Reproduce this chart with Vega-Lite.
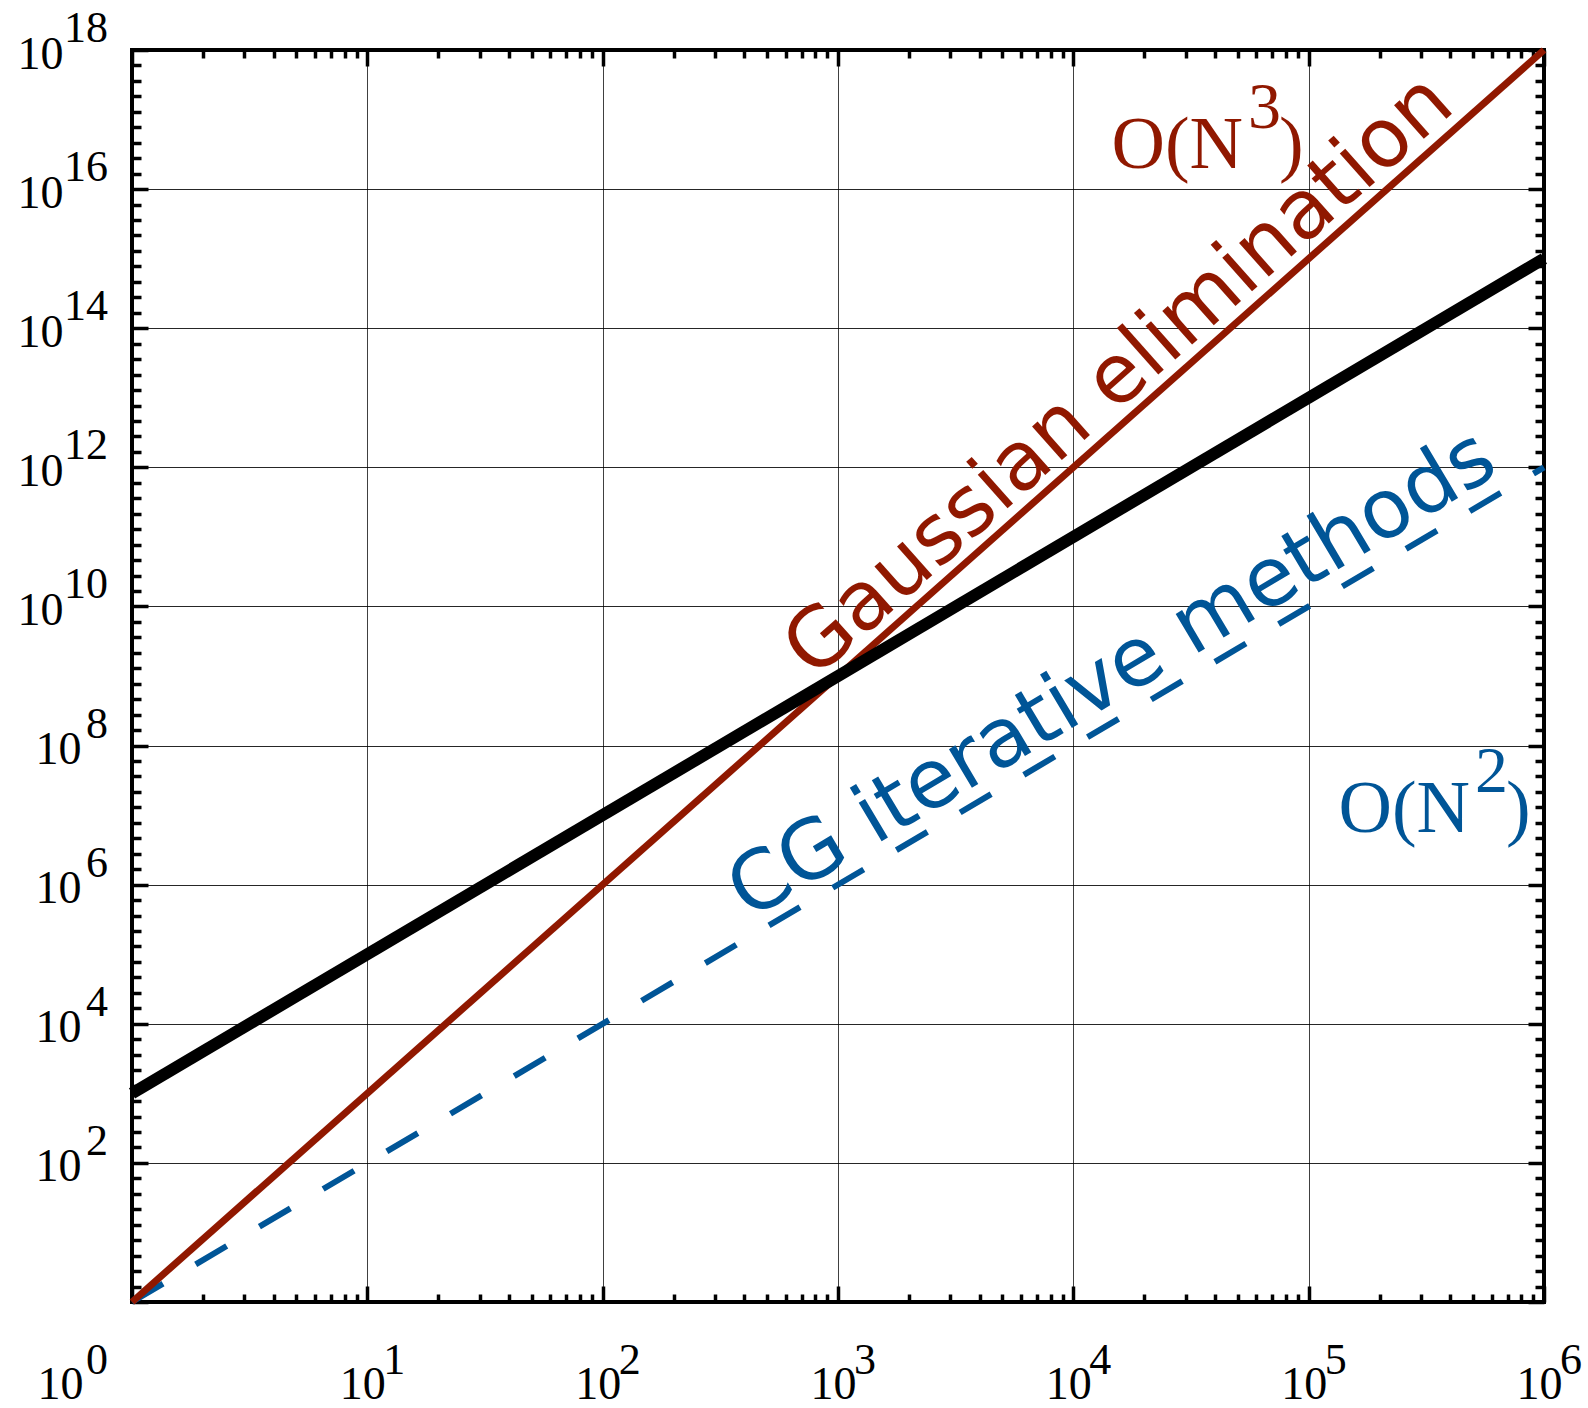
{
  "$schema": "https://vega.github.io/schema/vega-lite/v6.json",
  "width": 1412,
  "height": 1252,
  "autosize": {"type": "none"},
  "padding": {"left": 132, "top": 50, "right": 44, "bottom": 106},
  "background": "white",
  "config": {
    "view": {"stroke": "black", "strokeWidth": 4},
    "axis": {
      "domain": false,
      "tickColor": "black",
      "tickWidth": 3.5,
      "gridColor": "black",
      "gridWidth": 1,
      "labelFont": "Liberation Serif",
      "labelFontSize": 46,
      "labelColor": "black",
      "labelOverlap": false,
      "labelFlush": false,
      "labelBound": false
    },
    "text": {"font": "Liberation Serif"}
  },
  "datasets": {
    "curves": [
      {"curve": "cg", "N": 1, "work": 1},
      {"curve": "cg", "N": 1000000, "work": 1e12},
      {"curve": "gauss", "N": 1, "work": 1},
      {"curve": "gauss", "N": 1000000, "work": 1e18},
      {"curve": "ref", "N": 1, "work": 1000},
      {"curve": "ref", "N": 1000000, "work": 1e15}
    ],
    "yexp": [
      {"value": 1e2, "exp": "2"}, {"value": 1e4, "exp": "4"}, {"value": 1e6, "exp": "6"},
      {"value": 1e8, "exp": "8"}, {"value": 1e10, "exp": "10"}, {"value": 1e12, "exp": "12"},
      {"value": 1e14, "exp": "14"}, {"value": 1e16, "exp": "16"}, {"value": 1e18, "exp": "18"}
    ],
    "xexp": [
      {"value": 10, "exp": "1"}, {"value": 100, "exp": "2"}, {"value": 1000, "exp": "3"},
      {"value": 10000, "exp": "4"}, {"value": 100000, "exp": "5"}, {"value": 1000000, "exp": "6"}
    ],
    "x0exp": [{"value": 1, "exp": "0"}],
    "order": [
      {"kind": "O3", "N": 52600, "work": 2.04e16, "base": "O(N", "exp": "3", "close": ")"},
      {"kind": "O2", "N": 485000, "work": 5.65e6, "base": "O(N", "exp": "2", "close": ")"}
    ],
    "names": [
      {"kind": "gauss", "N": 20000, "work": 8e12, "name": "Gaussian elimination"},
      {"kind": "cg", "N": 17960, "work": 3.23e8, "name": "CG iterative methods"}
    ]
  },
  "layer": [
    {
      "data": {"name": "curves"},
      "transform": [{"filter": "datum.curve === 'cg'"}],
      "mark": {"type": "line", "color": "#005597", "strokeWidth": 6, "strokeDash": [36, 38], "strokeCap": "butt"},
      "encoding": {
        "x": {
          "field": "N", "type": "quantitative",
          "scale": {"type": "log", "domain": [1, 1000000], "nice": false},
          "axis": {
            "orient": "bottom", "title": null,
            "values": [1,2,3,4,5,6,7,8,9,10,20,30,40,50,60,70,80,90,100,200,300,400,500,600,700,800,900,1000,2000,3000,4000,5000,6000,7000,8000,9000,10000,20000,30000,40000,50000,60000,70000,80000,90000,100000,200000,300000,400000,500000,600000,700000,800000,900000,1000000],
            "labelExpr": "abs(log(datum.value)/LN10 - round(log(datum.value)/LN10)) < 0.001 ? '10' : ''",
            "tickSize": {"condition": {"test": "abs(log(datum.value)/LN10 - round(log(datum.value)/LN10)) < 0.001", "value": -16}, "value": -8},
            "grid": true,
            "gridOpacity": {"condition": {"test": "abs(log(datum.value)/LN10 - round(log(datum.value)/LN10)) < 0.001", "value": 0.75}, "value": 0},
            "labelBaseline": "alphabetic",
            "labelPadding": 112,
            "labelAlign": {"condition": {"test": "datum.value < 1.5", "value": "right"}, "value": "center"},
            "labelOffset": {"condition": {"test": "datum.value < 1.5", "value": -49}, "value": -5}
          }
        },
        "y": {
          "field": "work", "type": "quantitative",
          "scale": {"type": "log", "domain": [1, 1e18], "nice": false},
          "axis": {
            "orient": "left", "title": null,
            "values": [1,1.6681,2.7826,4.6416,7.7426,12.915,21.544,35.938,59.948,
              1e2,1.6681e2,2.7826e2,4.6416e2,7.7426e2,1.2915e3,2.1544e3,3.5938e3,5.9948e3,
              1e4,1.6681e4,2.7826e4,4.6416e4,7.7426e4,1.2915e5,2.1544e5,3.5938e5,5.9948e5,
              1e6,1.6681e6,2.7826e6,4.6416e6,7.7426e6,1.2915e7,2.1544e7,3.5938e7,5.9948e7,
              1e8,1.6681e8,2.7826e8,4.6416e8,7.7426e8,1.2915e9,2.1544e9,3.5938e9,5.9948e9,
              1e10,1.6681e10,2.7826e10,4.6416e10,7.7426e10,1.2915e11,2.1544e11,3.5938e11,5.9948e11,
              1e12,1.6681e12,2.7826e12,4.6416e12,7.7426e12,1.2915e13,2.1544e13,3.5938e13,5.9948e13,
              1e14,1.6681e14,2.7826e14,4.6416e14,7.7426e14,1.2915e15,2.1544e15,3.5938e15,5.9948e15,
              1e16,1.6681e16,2.7826e16,4.6416e16,7.7426e16,1.2915e17,2.1544e17,3.5938e17,5.9948e17,
              1e18],
            "labelExpr": "(datum.value > 1.5 && abs(log(datum.value)/LN10/2 - round(log(datum.value)/LN10/2)) < 0.001) ? '10' : ''",
            "tickSize": {"condition": {"test": "abs(log(datum.value)/LN10/2 - round(log(datum.value)/LN10/2)) < 0.001", "value": -16}, "value": -9},
            "grid": true,
            "gridOpacity": {"condition": {"test": "abs(log(datum.value)/LN10/2 - round(log(datum.value)/LN10/2)) < 0.001", "value": 0.85}, "value": 0},
            "labelBaseline": "alphabetic",
            "labelAlign": "right",
            "labelOffset": 18,
            "labelPadding": {"condition": {"test": "datum.value > 1e9", "value": 85}, "value": 67}
          }
        }
      }
    },
    {
      "data": {"name": "curves"},
      "transform": [{"filter": "datum.curve === 'gauss'"}],
      "mark": {"type": "line", "color": "#901800", "strokeWidth": 7},
      "encoding": {
        "x": {
          "field": "N", "type": "quantitative",
          "scale": {"type": "log", "domain": [1, 1000000], "nice": false},
          "axis": {
            "orient": "top", "title": null, "labels": false, "grid": false,
            "values": [1,2,3,4,5,6,7,8,9,10,20,30,40,50,60,70,80,90,100,200,300,400,500,600,700,800,900,1000,2000,3000,4000,5000,6000,7000,8000,9000,10000,20000,30000,40000,50000,60000,70000,80000,90000,100000,200000,300000,400000,500000,600000,700000,800000,900000,1000000],
            "tickSize": {"condition": {"test": "abs(log(datum.value)/LN10 - round(log(datum.value)/LN10)) < 0.001", "value": -16}, "value": -8}
          }
        },
        "y": {
          "field": "work", "type": "quantitative",
          "scale": {"type": "log", "domain": [1, 1e18], "nice": false},
          "axis": {
            "orient": "right", "title": null, "labels": false, "grid": false,
            "values": [1,1.6681,2.7826,4.6416,7.7426,12.915,21.544,35.938,59.948,
              1e2,1.6681e2,2.7826e2,4.6416e2,7.7426e2,1.2915e3,2.1544e3,3.5938e3,5.9948e3,
              1e4,1.6681e4,2.7826e4,4.6416e4,7.7426e4,1.2915e5,2.1544e5,3.5938e5,5.9948e5,
              1e6,1.6681e6,2.7826e6,4.6416e6,7.7426e6,1.2915e7,2.1544e7,3.5938e7,5.9948e7,
              1e8,1.6681e8,2.7826e8,4.6416e8,7.7426e8,1.2915e9,2.1544e9,3.5938e9,5.9948e9,
              1e10,1.6681e10,2.7826e10,4.6416e10,7.7426e10,1.2915e11,2.1544e11,3.5938e11,5.9948e11,
              1e12,1.6681e12,2.7826e12,4.6416e12,7.7426e12,1.2915e13,2.1544e13,3.5938e13,5.9948e13,
              1e14,1.6681e14,2.7826e14,4.6416e14,7.7426e14,1.2915e15,2.1544e15,3.5938e15,5.9948e15,
              1e16,1.6681e16,2.7826e16,4.6416e16,7.7426e16,1.2915e17,2.1544e17,3.5938e17,5.9948e17,
              1e18],
            "tickSize": {"condition": {"test": "abs(log(datum.value)/LN10/2 - round(log(datum.value)/LN10/2)) < 0.001", "value": -16}, "value": -9}
          }
        }
      }
    },
    {
      "data": {"name": "curves"},
      "transform": [{"filter": "datum.curve === 'ref'"}],
      "mark": {"type": "line", "color": "black", "strokeWidth": 12},
      "encoding": {
        "x": {"field": "N", "type": "quantitative", "axis": null},
        "y": {"field": "work", "type": "quantitative", "axis": null}
      }
    },
    {
      "data": {"name": "names"},
      "transform": [{"filter": "datum.kind === 'gauss'"}],
      "mark": {"type": "text", "font": "DejaVu Sans", "fontSize": 82, "color": "#901800", "angle": 318.4, "align": "center", "baseline": "alphabetic", "dy": -13},
      "encoding": {
        "x": {"field": "N", "type": "quantitative", "axis": null},
        "y": {"field": "work", "type": "quantitative", "axis": null},
        "text": {"field": "name"}
      }
    },
    {
      "data": {"name": "names"},
      "transform": [{"filter": "datum.kind === 'cg'"}],
      "mark": {"type": "text", "font": "DejaVu Sans", "fontSize": 82, "color": "#005597", "angle": 329.2, "align": "center", "baseline": "alphabetic", "dy": -16},
      "encoding": {
        "x": {"field": "N", "type": "quantitative", "axis": null},
        "y": {"field": "work", "type": "quantitative", "axis": null},
        "text": {"field": "name"}
      }
    },
    {
      "data": {"name": "order"},
      "mark": {"type": "text", "fontSize": 74, "align": "right", "baseline": "alphabetic"},
      "encoding": {
        "x": {"field": "N", "type": "quantitative", "axis": null},
        "y": {"field": "work", "type": "quantitative", "axis": null},
        "text": {"field": "base"},
        "color": {"field": "kind", "type": "nominal", "scale": {"domain": ["O3", "O2"], "range": ["#901800", "#005597"]}, "legend": null}
      }
    },
    {
      "data": {"name": "order"},
      "mark": {"type": "text", "fontSize": 66, "align": "left", "baseline": "alphabetic", "dx": 5, "dy": -40},
      "encoding": {
        "x": {"field": "N", "type": "quantitative", "axis": null},
        "y": {"field": "work", "type": "quantitative", "axis": null},
        "text": {"field": "exp"},
        "color": {"field": "kind", "type": "nominal", "scale": {"domain": ["O3", "O2"], "range": ["#901800", "#005597"]}, "legend": null}
      }
    },
    {
      "data": {"name": "order"},
      "mark": {"type": "text", "fontSize": 74, "align": "left", "baseline": "alphabetic", "dx": 36},
      "encoding": {
        "x": {"field": "N", "type": "quantitative", "axis": null},
        "y": {"field": "work", "type": "quantitative", "axis": null},
        "text": {"field": "close"},
        "color": {"field": "kind", "type": "nominal", "scale": {"domain": ["O3", "O2"], "range": ["#901800", "#005597"]}, "legend": null}
      }
    },
    {
      "data": {"name": "yexp"},
      "mark": {"type": "text", "fontSize": 44, "align": "right", "baseline": "alphabetic", "dx": -24, "dy": -8, "color": "black"},
      "encoding": {
        "x": {"datum": 1, "type": "quantitative", "axis": null},
        "y": {"field": "value", "type": "quantitative", "axis": null},
        "text": {"field": "exp"}
      }
    },
    {
      "data": {"name": "xexp"},
      "mark": {"type": "text", "fontSize": 44, "align": "left", "baseline": "alphabetic", "dx": 16, "dy": 72, "color": "black"},
      "encoding": {
        "x": {"field": "value", "type": "quantitative", "axis": null},
        "y": {"datum": 1, "type": "quantitative", "axis": null},
        "text": {"field": "exp"}
      }
    },
    {
      "data": {"name": "x0exp"},
      "mark": {"type": "text", "fontSize": 44, "align": "right", "baseline": "alphabetic", "dx": -24, "dy": 72, "color": "black"},
      "encoding": {
        "x": {"field": "value", "type": "quantitative", "axis": null},
        "y": {"datum": 1, "type": "quantitative", "axis": null},
        "text": {"field": "exp"}
      }
    }
  ],
  "resolve": {"axis": {"x": "independent", "y": "independent"}}
}
